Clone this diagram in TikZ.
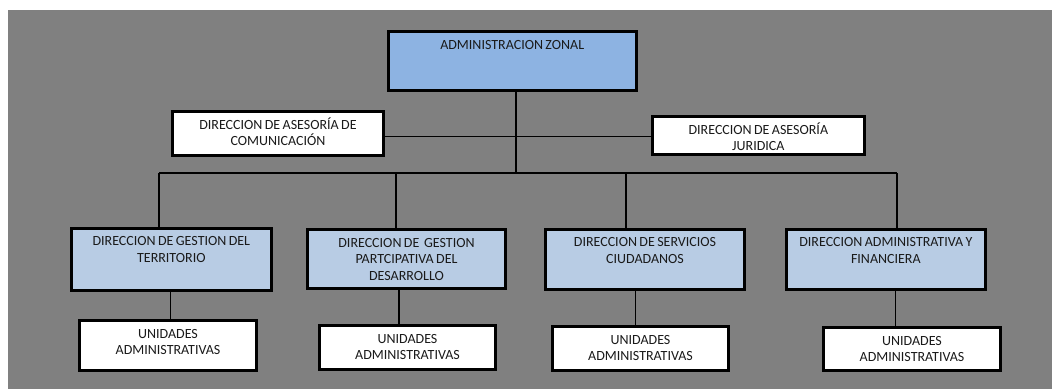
\documentclass[tikz,border=0pt]{standalone}
\usepackage{fontspec}
\setmainfont{Carlito}[WordSpace=0.75]
\definecolor{bg}{HTML}{808080}
\definecolor{topblue}{HTML}{8DB3E2}
\definecolor{subblue}{HTML}{B8CCE4}
\definecolor{txtc}{HTML}{1A1A1A}
\newcommand\mkbox[7]{%
  \node[bx, fill=#2, minimum width={#5-#3-3}, minimum height={#6-#4-3}] (#1) at ({(#3+#5)/2},{(#4+#6)/2}) {};
  \node[lbl] (#1-t) at ({(#3+#5)/2},{#4+7}) {\rule{0pt}{12pt}#7};}
\begin{document}
\begin{tikzpicture}[x=1pt,y=-1pt,
  bx/.style={draw=black, line width=3pt, inner sep=0pt},
  lbl/.style={align=center, inner sep=0pt, anchor=north, text=txtc, font=\fontsize{14}{16.3}\selectfont},
  con/.style={draw=black, line width=1.3pt}]
\useasboundingbox (0,0) rectangle (1052,389);
\fill[bg] (8,10) rectangle (1052,389);
% boxes
\mkbox{top}{topblue}{386.7}{30}{637.7}{91.7}{ADMINISTRACION ZONAL}
\mkbox{L}{white}{171}{110}{385}{156.7}{DIRECCION DE ASESORÍA DE\\COMUNICACIÓN}
\mkbox{R}{white}{651}{115}{865.7}{155.7}{DIRECCION DE ASESORÍA\\JURIDICA}
\mkbox{b1}{subblue}{70}{226.7}{272.7}{292.3}{DIRECCION DE GESTION DEL\\TERRITORIO}
\mkbox{b2}{subblue}{305.7}{228.3}{507.3}{290}{DIRECCION DE\ \ GESTION\\PARTCIPATIVA DEL\\DESARROLLO}
\mkbox{b3}{subblue}{544}{227.7}{746}{291}{DIRECCION DE SERVICIOS\\CIUDADANOS}
\mkbox{b4}{subblue}{785}{227.7}{986.7}{291}{DIRECCION ADMINISTRATIVA Y\\FINANCIERA}
\mkbox{u1}{white}{78.3}{319.3}{257.7}{372.3}{UNIDADES\\ADMINISTRATIVAS}
\mkbox{u2}{white}{317.7}{324.3}{497.3}{371}{UNIDADES\\ADMINISTRATIVAS}
\mkbox{u3}{white}{551}{325}{730}{372.3}{UNIDADES\\ADMINISTRATIVAS}
\mkbox{u4}{white}{822.3}{326}{1001.7}{372.3}{UNIDADES\\ADMINISTRATIVAS}
% connector points
\coordinate (stem) at (516,173);
\coordinate (d1) at (159,173);
\coordinate (d2) at (396,173);
\coordinate (d3) at (626,173);
\coordinate (d4) at (897,173);
\coordinate (k1) at (170.7,300);
\coordinate (k2) at (399,300);
\coordinate (k3) at (635.3,300);
\coordinate (k4) at (895.7,300);
% connectors
\draw[con] (top.south -| stem) -- (stem);
\draw[con] ([yshift=-3pt]L.east) -- ([yshift=-3pt]L.east -| R.west);
\draw[con] (d1) -- (d4);
\draw[con] (d1) -- (d1 |- b1.north);
\draw[con] (d2) -- (d2 |- b2.north);
\draw[con] (d3) -- (d3 |- b3.north);
\draw[con] (d4) -- (d4 |- b4.north);
\draw[con] (b1.south -| k1) -- (u1.north -| k1);
\draw[con] (b2.south -| k2) -- (u2.north -| k2);
\draw[con] (b3.south -| k3) -- (u3.north -| k3);
\draw[con] (b4.south -| k4) -- (u4.north -| k4);
\end{tikzpicture}
\end{document}
